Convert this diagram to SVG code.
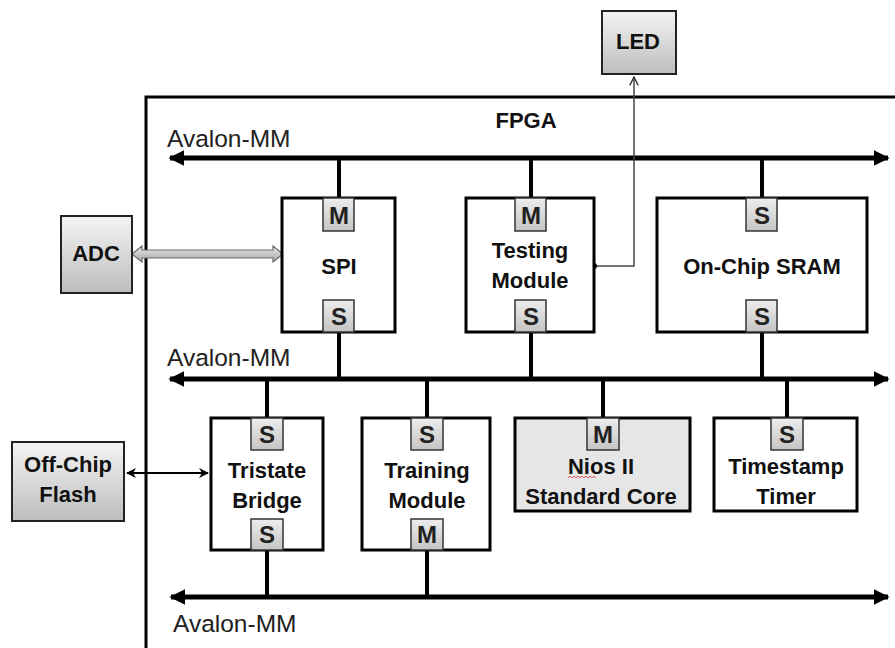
<svg xmlns="http://www.w3.org/2000/svg" width="895" height="648" viewBox="0 0 895 648">
<defs>
<linearGradient id="gbox" x1="0" y1="0" x2="0" y2="1">
<stop offset="0" stop-color="#f4f4f4"/>
<stop offset="1" stop-color="#bdbdbd"/>
</linearGradient>
<linearGradient id="gtab" x1="0" y1="0" x2="0" y2="1">
<stop offset="0" stop-color="#ededed"/>
<stop offset="1" stop-color="#c4c4c4"/>
</linearGradient>
<linearGradient id="garr" x1="0" y1="0" x2="0" y2="1">
<stop offset="0" stop-color="#e8e8e8"/>
<stop offset="1" stop-color="#a8a8a8"/>
</linearGradient>
<marker id="busR" viewBox="0 0 10 10" refX="9" refY="5" markerWidth="3.2" markerHeight="3.2" orient="auto" markerUnits="strokeWidth">
<path d="M0,0 L10,5 L0,10 Z" fill="#000"/>
</marker>
<marker id="busL" viewBox="0 0 10 10" refX="1" refY="5" markerWidth="3.2" markerHeight="3.2" orient="auto" markerUnits="strokeWidth">
<path d="M10,0 L0,5 L10,10 Z" fill="#000"/>
</marker>
<marker id="thinE" viewBox="0 0 10 10" refX="9" refY="5" markerWidth="5" markerHeight="5" orient="auto" markerUnits="strokeWidth">
<path d="M0,0 L10,5 L0,10 L3,5 Z" fill="#000"/>
</marker>
<marker id="thinS" viewBox="0 0 10 10" refX="1" refY="5" markerWidth="5" markerHeight="5" orient="auto" markerUnits="strokeWidth">
<path d="M10,0 L0,5 L10,10 L7,5 Z" fill="#000"/>
</marker>
<marker id="open" viewBox="0 0 10 10" refX="9" refY="5" markerWidth="7" markerHeight="7" orient="auto" markerUnits="strokeWidth">
<path d="M1,1 L9,5 L1,9" fill="none" stroke="#333" stroke-width="1.3"/>
</marker>
</defs>
<style>
.box{fill:#fff;stroke:#000;stroke-width:3}
.ext{fill:url(#gbox);stroke:#222;stroke-width:2}
.tab{fill:url(#gtab);stroke:#333;stroke-width:1.5}
.t{font-family:"Liberation Sans",Arial,sans-serif;font-weight:bold;font-size:22px;fill:#111;text-anchor:middle}
.tl{font-family:"Liberation Sans",Arial,sans-serif;font-weight:bold;font-size:24px;fill:#222;text-anchor:middle}
.bl{font-family:"Liberation Sans",Arial,sans-serif;font-size:24.5px;fill:#222}
.bus{stroke:#000;stroke-width:5;fill:none}
.con{stroke:#000;stroke-width:4;fill:none}
</style>
<rect width="895" height="648" fill="#fff"/>

<g id="fpga">
<path d="M146,648 V97 H895" fill="none" stroke="#000" stroke-width="3"/>
<text class="t" x="526" y="128">FPGA</text>
</g>

<g id="connectors">
<line class="bus" x1="170" y1="158" x2="888" y2="158" marker-start="url(#busL)" marker-end="url(#busR)"/>
<line class="bus" x1="170" y1="379" x2="888" y2="379" marker-start="url(#busL)" marker-end="url(#busR)"/>
<line class="bus" x1="171" y1="597" x2="888" y2="597" marker-start="url(#busL)" marker-end="url(#busR)"/>
<line class="con" x1="339" y1="158" x2="339" y2="198"/>
<line class="con" x1="531" y1="158" x2="531" y2="198"/>
<line class="con" x1="762" y1="158" x2="762" y2="198"/>
<line class="con" x1="339" y1="332" x2="339" y2="379"/>
<line class="con" x1="531" y1="332" x2="531" y2="379"/>
<line class="con" x1="762" y1="332" x2="762" y2="379"/>
<line class="con" x1="267" y1="379" x2="267" y2="418"/>
<line class="con" x1="427" y1="379" x2="427" y2="418"/>
<line class="con" x1="603" y1="379" x2="603" y2="418"/>
<line class="con" x1="787" y1="379" x2="787" y2="418"/>
<line class="con" x1="267" y1="550" x2="267" y2="597"/>
<line class="con" x1="427" y1="550" x2="427" y2="597"/>
<polygon points="132,254 142,246 142,250 273,250 273,246 283,254 273,262 273,258 142,258 142,262" fill="url(#garr)" stroke="#6a6a6a" stroke-width="1.2"/>
<line x1="127" y1="473" x2="208" y2="473" stroke="#000" stroke-width="2" marker-start="url(#thinS)" marker-end="url(#thinE)"/>
<polyline points="594,266 634,266 634,77" fill="none" stroke="#444" stroke-width="1.5" marker-end="url(#open)"/>
<circle cx="594" cy="266" r="3" fill="#000"/>
</g>

<text class="bl" x="167" y="147">Avalon-MM</text>
<text class="bl" x="167" y="366">Avalon-MM</text>
<text class="bl" x="173" y="632">Avalon-MM</text>

<g id="adc">
<rect class="ext" x="61" y="216" width="71" height="77"/>
<text class="t" x="96" y="261">ADC</text>
</g>
<g id="led">
<rect class="ext" x="602" y="11" width="74" height="63"/>
<text class="t" x="638" y="49">LED</text>
</g>
<g id="flash">
<rect class="ext" x="12" y="442" width="112" height="79"/>
<text class="t" x="68" y="472">Off-Chip</text>
<text class="t" x="68" y="502">Flash</text>
</g>

<g id="spi">
<rect class="box" x="282" y="198" width="113" height="134"/>
<rect class="tab" x="323" y="198" width="31" height="33"/>
<text class="tl" x="339" y="224">M</text>
<text class="t" x="339" y="274">SPI</text>
<rect class="tab" x="323" y="300" width="31" height="32"/>
<text class="tl" x="339" y="325">S</text>
</g>

<g id="testing">
<rect class="box" x="466" y="198" width="128" height="134"/>
<rect class="tab" x="515" y="198" width="31" height="33"/>
<text class="tl" x="531" y="224">M</text>
<text class="t" x="530" y="258">Testing</text>
<text class="t" x="530" y="288">Module</text>
<rect class="tab" x="515" y="300" width="31" height="32"/>
<text class="tl" x="531" y="325">S</text>
</g>

<g id="sram">
<rect class="box" x="657" y="198" width="210" height="134"/>
<rect class="tab" x="746" y="198" width="31" height="33"/>
<text class="tl" x="762" y="224">S</text>
<text class="t" x="762" y="274">On-Chip SRAM</text>
<rect class="tab" x="746" y="300" width="31" height="32"/>
<text class="tl" x="762" y="325">S</text>
</g>

<g id="tristate">
<rect class="box" x="211" y="418" width="112" height="132"/>
<rect class="tab" x="251" y="418" width="32" height="32"/>
<text class="tl" x="267" y="443">S</text>
<text class="t" x="267" y="478">Tristate</text>
<text class="t" x="267" y="508">Bridge</text>
<rect class="tab" x="251" y="519" width="32" height="31"/>
<text class="tl" x="267" y="543">S</text>
</g>

<g id="training">
<rect class="box" x="362" y="418" width="128" height="132"/>
<rect class="tab" x="411" y="418" width="32" height="32"/>
<text class="tl" x="427" y="443">S</text>
<text class="t" x="427" y="478">Training</text>
<text class="t" x="427" y="508">Module</text>
<rect class="tab" x="411" y="519" width="32" height="31"/>
<text class="tl" x="427" y="543">M</text>
</g>

<g id="nios">
<rect class="box" x="515" y="418" width="175" height="93" style="fill:#e6e6e6"/>
<rect class="tab" x="587" y="418" width="32" height="32"/>
<text class="tl" x="603" y="443">M</text>
<text class="t" x="601" y="474">Nios II</text>
<text class="t" x="601" y="504">Standard Core</text>
<polyline points="568,478 570,476 572,478 574,476 576,478 578,476 580,478 582,476 584,478 586,476 588,478 590,476 592,478 594,476 596,478" fill="none" stroke="#d33" stroke-width="0.8"/>
</g>

<g id="timestamp">
<rect class="box" x="714" y="418" width="143" height="93"/>
<rect class="tab" x="771" y="418" width="32" height="32"/>
<text class="tl" x="787" y="443">S</text>
<text class="t" x="786" y="474">Timestamp</text>
<text class="t" x="786" y="504">Timer</text>
</g>
</svg>
